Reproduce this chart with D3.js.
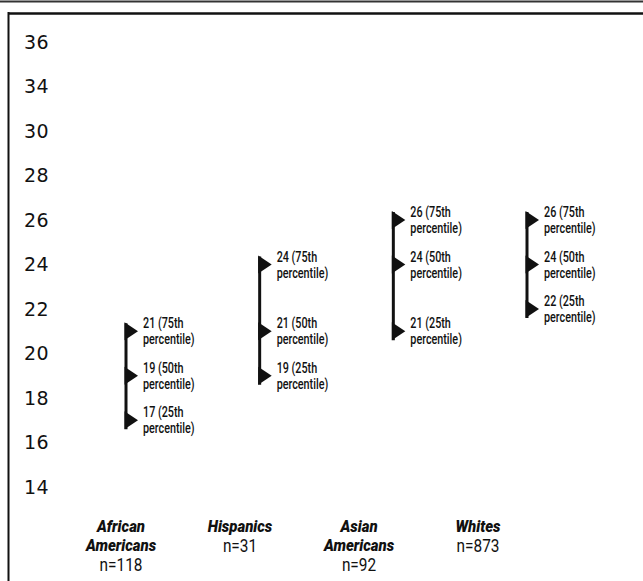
<!DOCTYPE html>
<html>
  <head>
    <meta charset="utf-8">
    <title>Percentile ranges by group</title>
    <script src="https://d3js.org/d3.v7.min.js"></script>
    <style>
      body { margin: 0; background: #fff; }
      svg { display: block; }
      .tick { font-family: "DejaVu Sans", sans-serif; font-size: 19px; letter-spacing: 0.5px; fill: #111; }
      .note { font-family: Roboto, sans-serif; font-size: 15px; font-weight: 500; fill: #111; }
      .label { font-family: Roboto, sans-serif; fill: #111; }
      .cat { font-size: 17px; font-weight: 900; font-style: italic; }
      .count { font-size: 17.5px; font-weight: 400; font-style: normal; }
    </style>
  </head>
  <body>
    <svg id="chart" width="643" height="581"></svg>
    <script>
      // chart data
      var categories = ["African Americans", "Hispanics", "Asian Americans", "Whites"];
      var counts = [118, 31, 92, 873];
      var p25 = [17, 19, 21, 22];
      var p50 = [19, 21, 24, 24];
      var p75 = [21, 24, 26, 26];
      var yTicks = [36, 34, 30, 28, 26, 24, 22, 20, 18, 16, 14];

      var chart = d3.select("#chart");

      // frame
      chart.append("line")
        .attr("x1", 0).attr("x2", 643).attr("y1", 1.5).attr("y2", 1.5)
        .style("stroke", "#333").style("stroke-width", 2);
      chart.append("line")
        .attr("x1", 8).attr("x2", 643).attr("y1", 13.5).attr("y2", 13.5)
        .style("stroke", "#111").style("stroke-width", 2.5);
      chart.append("line")
        .attr("x1", 8.5).attr("x2", 8.5).attr("y1", 12).attr("y2", 581)
        .style("stroke", "#111").style("stroke-width", 2);

      // scales (the printed axis skips 32, so the top part is squeezed)
      var y = d3.scaleLinear()
        .domain([14, 30, 34, 36])
        .range([487, 131, 86, 42]);
      var x = d3.scalePoint()
        .domain(categories)
        .range([126, 527]);
      var xLabel = d3.scalePoint()
        .domain(categories)
        .range([121, 478]);

      // y labels
      chart.selectAll(".tick")
        .data(yTicks)
        .enter().append("text")
          .classed("tick", true)
          .attr("x", 24)
          .attr("y", function(d) { return y(d) + 6.5; })
          .text(function(d) { return d; });

      // one group per category
      var rows = categories.map(function(c, i) {
        return { cat: c, n: counts[i], marks: [
          { v: p75[i], q: "75th" }, { v: p50[i], q: "50th" }, { v: p25[i], q: "25th" }
        ] };
      });

      var groups = chart.selectAll(".group")
        .data(rows)
        .enter().append("g")
          .classed("group", true)
          .attr("transform", function(d) { return "translate(" + x(d.cat) + ",0)"; });

      groups.append("line")
        .attr("x1", 0).attr("x2", 0)
        .attr("y1", function(d) { return y(d.marks[0].v) - 8; })
        .attr("y2", function(d) { return y(d.marks[2].v) + 9; })
        .style("stroke", "#111")
        .style("stroke-width", 3);

      var marks = groups.selectAll(".mark")
        .data(function(d) { return d.marks; })
        .enter().append("g")
          .classed("mark", true)
          .attr("transform", function(d) { return "translate(0," + y(d.v) + ")"; });

      marks.append("path")
        .attr("d", "M-1.5,-9L12,0L-1.5,9Z")
        .style("fill", "#111");

      // condensed text: squeeze horizontally
      marks.append("text")
        .classed("note", true)
        .attr("transform", "translate(17,-3) scale(0.72,1)")
        .text(function(d) { return d.v + " (" + d.q; });
      marks.append("text")
        .classed("note", true)
        .attr("transform", "translate(17,13) scale(0.72,1)")
        .text("percentile)");

      // category labels: one text block per group, lines as tspans
      var labels = chart.selectAll(".label")
        .data(rows)
        .enter().append("text")
          .classed("label", true)
          .attr("text-anchor", "middle")
          .attr("transform", function(d) { return "translate(" + xLabel(d.cat) + ",0) scale(0.88,1)"; });

      labels.each(function(d) {
        var t = d3.select(this);
        var words = d.cat.split(" ");
        words.forEach(function(w, j) {
          t.append("tspan")
            .classed("cat", true)
            .attr("x", 0)
            .attr("y", 532 + j * 19)
            .text(w);
        });
        t.append("tspan")
          .classed("count", true)
          .attr("x", 0)
          .attr("y", 532 + (words.length - 1) * 19 + 20)
          .text("n=" + d.n);
      });
    </script>
  </body>
</html>
